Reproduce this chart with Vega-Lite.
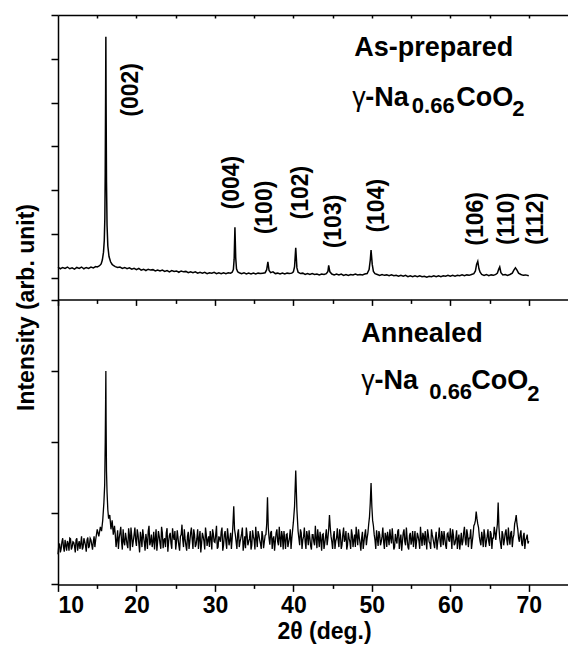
{
"$schema":"https://vega.github.io/schema/vega-lite/v6.json",
"background":"white",
"padding":{"left":15,"top":14,"right":0,"bottom":0},
"bounds":"flush",
"spacing":0,
"config":{"view":{"stroke":null},"font":"Liberation Sans",
"axis":{"domainColor":"black","tickColor":"black","domainWidth":1.5,"tickWidth":1.5,"grid":false,"labelFont":"Liberation Sans","labelFontWeight":"bold","labelFontSize":23,"labelColor":"black","titleFont":"Liberation Sans","titleFontWeight":"bold","titleFontSize":23,"titleColor":"black"}},
"datasets":{
"top":[{"x":10.0,"y":0.24},{"x":10.3,"y":0.2},{"x":10.6,"y":0.23},{"x":10.9,"y":0.21},{"x":11.2,"y":0.24},{"x":11.5,"y":0.2},{"x":11.8,"y":0.22},{"x":12.1,"y":0.19},{"x":12.4,"y":0.23},{"x":12.7,"y":0.21},{"x":13.0,"y":0.24},{"x":13.3,"y":0.2},{"x":13.6,"y":0.23},{"x":13.9,"y":0.21},{"x":14.2,"y":0.24},{"x":14.5,"y":0.22},{"x":14.8,"y":0.25},{"x":15.0,"y":0.24},{"x":15.2,"y":0.26},{"x":15.35,"y":0.28},{"x":15.5,"y":0.31},{"x":15.65,"y":0.4},{"x":15.8,"y":0.58},{"x":15.9,"y":0.85},{"x":15.97,"y":1.35},{"x":16.02,"y":2.4},{"x":16.07,"y":4.2},{"x":16.1,"y":5.5},{"x":16.13,"y":4.0},{"x":16.18,"y":2.2},{"x":16.25,"y":1.2},{"x":16.35,"y":0.72},{"x":16.5,"y":0.48},{"x":16.7,"y":0.36},{"x":16.9,"y":0.3},{"x":17.1,"y":0.27},{"x":17.3,"y":0.25},{"x":17.6,"y":0.23},{"x":17.9,"y":0.24},{"x":18.2,"y":0.21},{"x":18.5,"y":0.23},{"x":18.8,"y":0.2},{"x":19.1,"y":0.22},{"x":19.4,"y":0.19},{"x":19.7,"y":0.21},{"x":20.0,"y":0.18},{"x":20.3,"y":0.21},{"x":20.6,"y":0.17},{"x":20.9,"y":0.19},{"x":21.2,"y":0.16},{"x":21.5,"y":0.19},{"x":21.8,"y":0.17},{"x":22.1,"y":0.18},{"x":22.4,"y":0.15},{"x":22.7,"y":0.17},{"x":23.0,"y":0.15},{"x":23.3,"y":0.17},{"x":23.6,"y":0.14},{"x":23.9,"y":0.16},{"x":24.2,"y":0.13},{"x":24.5,"y":0.16},{"x":24.8,"y":0.14},{"x":25.1,"y":0.15},{"x":25.4,"y":0.12},{"x":25.7,"y":0.15},{"x":26.0,"y":0.13},{"x":26.3,"y":0.14},{"x":26.6,"y":0.11},{"x":26.9,"y":0.13},{"x":27.2,"y":0.11},{"x":27.5,"y":0.13},{"x":27.8,"y":0.1},{"x":28.1,"y":0.12},{"x":28.4,"y":0.1},{"x":28.7,"y":0.12},{"x":29.0,"y":0.09},{"x":29.3,"y":0.11},{"x":29.6,"y":0.1},{"x":29.9,"y":0.12},{"x":30.2,"y":0.09},{"x":30.5,"y":0.11},{"x":30.8,"y":0.09},{"x":31.1,"y":0.11},{"x":31.4,"y":0.09},{"x":31.7,"y":0.11},{"x":32.0,"y":0.1},{"x":32.2,"y":0.12},{"x":32.35,"y":0.18},{"x":32.45,"y":0.42},{"x":32.55,"y":1.15},{"x":32.65,"y":0.45},{"x":32.75,"y":0.2},{"x":32.9,"y":0.13},{"x":33.1,"y":0.11},{"x":33.4,"y":0.09},{"x":33.7,"y":0.11},{"x":34.0,"y":0.08},{"x":34.3,"y":0.1},{"x":34.6,"y":0.08},{"x":34.9,"y":0.1},{"x":35.2,"y":0.08},{"x":35.5,"y":0.1},{"x":35.8,"y":0.09},{"x":36.1,"y":0.1},{"x":36.4,"y":0.11},{"x":36.6,"y":0.18},{"x":36.75,"y":0.36},{"x":36.9,"y":0.16},{"x":37.1,"y":0.11},{"x":37.4,"y":0.13},{"x":37.7,"y":0.09},{"x":38.0,"y":0.1},{"x":38.3,"y":0.08},{"x":38.6,"y":0.1},{"x":38.9,"y":0.08},{"x":39.2,"y":0.1},{"x":39.5,"y":0.09},{"x":39.8,"y":0.1},{"x":40.0,"y":0.13},{"x":40.15,"y":0.25},{"x":40.3,"y":0.68},{"x":40.45,"y":0.22},{"x":40.6,"y":0.12},{"x":40.9,"y":0.09},{"x":41.2,"y":0.1},{"x":41.5,"y":0.07},{"x":41.8,"y":0.09},{"x":42.1,"y":0.07},{"x":42.4,"y":0.09},{"x":42.7,"y":0.07},{"x":43.0,"y":0.08},{"x":43.3,"y":0.06},{"x":43.6,"y":0.08},{"x":43.9,"y":0.07},{"x":44.2,"y":0.09},{"x":44.4,"y":0.14},{"x":44.5,"y":0.28},{"x":44.65,"y":0.13},{"x":44.9,"y":0.08},{"x":45.2,"y":0.06},{"x":45.5,"y":0.08},{"x":45.8,"y":0.06},{"x":46.1,"y":0.08},{"x":46.4,"y":0.05},{"x":46.7,"y":0.07},{"x":47.0,"y":0.05},{"x":47.3,"y":0.07},{"x":47.6,"y":0.06},{"x":47.9,"y":0.08},{"x":48.2,"y":0.06},{"x":48.5,"y":0.07},{"x":48.8,"y":0.06},{"x":49.1,"y":0.08},{"x":49.4,"y":0.09},{"x":49.65,"y":0.18},{"x":49.8,"y":0.4},{"x":49.9,"y":0.63},{"x":50.05,"y":0.3},{"x":50.2,"y":0.14},{"x":50.4,"y":0.09},{"x":50.7,"y":0.07},{"x":51.0,"y":0.05},{"x":51.3,"y":0.07},{"x":51.6,"y":0.05},{"x":51.9,"y":0.06},{"x":52.2,"y":0.04},{"x":52.5,"y":0.06},{"x":52.8,"y":0.04},{"x":53.1,"y":0.05},{"x":53.4,"y":0.03},{"x":53.7,"y":0.05},{"x":54.0,"y":0.03},{"x":54.3,"y":0.05},{"x":54.6,"y":0.02},{"x":54.9,"y":0.04},{"x":55.2,"y":0.02},{"x":55.5,"y":0.04},{"x":55.8,"y":0.02},{"x":56.1,"y":0.04},{"x":56.4,"y":0.02},{"x":56.7,"y":0.03},{"x":57.0,"y":0.01},{"x":57.3,"y":0.03},{"x":57.6,"y":0.02},{"x":57.9,"y":0.04},{"x":58.2,"y":0.02},{"x":58.5,"y":0.04},{"x":58.8,"y":0.02},{"x":59.1,"y":0.04},{"x":59.4,"y":0.03},{"x":59.7,"y":0.05},{"x":60.0,"y":0.03},{"x":60.3,"y":0.05},{"x":60.6,"y":0.03},{"x":60.9,"y":0.05},{"x":61.2,"y":0.04},{"x":61.5,"y":0.06},{"x":61.8,"y":0.04},{"x":62.1,"y":0.06},{"x":62.4,"y":0.05},{"x":62.7,"y":0.07},{"x":63.0,"y":0.09},{"x":63.2,"y":0.15},{"x":63.35,"y":0.3},{"x":63.5,"y":0.37},{"x":63.65,"y":0.2},{"x":63.8,"y":0.12},{"x":64.0,"y":0.07},{"x":64.3,"y":0.05},{"x":64.6,"y":0.07},{"x":64.9,"y":0.04},{"x":65.2,"y":0.06},{"x":65.5,"y":0.05},{"x":65.8,"y":0.07},{"x":66.0,"y":0.1},{"x":66.15,"y":0.18},{"x":66.3,"y":0.24},{"x":66.45,"y":0.11},{"x":66.7,"y":0.06},{"x":67.0,"y":0.07},{"x":67.3,"y":0.05},{"x":67.6,"y":0.07},{"x":67.9,"y":0.1},{"x":68.1,"y":0.17},{"x":68.3,"y":0.22},{"x":68.5,"y":0.17},{"x":68.7,"y":0.1},{"x":69.0,"y":0.07},{"x":69.3,"y":0.05},{"x":69.6,"y":0.06},{"x":70.0,"y":0.04}],
"bot":[{"x":10.0,"y":0.85},{"x":10.2,"y":1.15},{"x":10.4,"y":1.0},{"x":10.6,"y":1.3},{"x":10.8,"y":0.92},{"x":11.0,"y":1.1},{"x":11.2,"y":1.22},{"x":11.4,"y":0.95},{"x":11.6,"y":1.28},{"x":11.8,"y":1.05},{"x":12.0,"y":1.18},{"x":12.2,"y":0.9},{"x":12.4,"y":1.3},{"x":12.6,"y":1.12},{"x":12.8,"y":1.0},{"x":13.0,"y":1.35},{"x":13.2,"y":1.05},{"x":13.4,"y":1.2},{"x":13.6,"y":0.92},{"x":13.8,"y":1.32},{"x":14.0,"y":1.08},{"x":14.2,"y":1.25},{"x":14.4,"y":0.98},{"x":14.6,"y":1.35},{"x":14.8,"y":1.25},{"x":15.0,"y":1.55},{"x":15.2,"y":1.35},{"x":15.4,"y":1.62},{"x":15.55,"y":1.5},{"x":15.7,"y":1.8},{"x":15.85,"y":2.3},{"x":15.95,"y":2.8},{"x":16.02,"y":4.0},{"x":16.07,"y":5.2},{"x":16.1,"y":6.0},{"x":16.13,"y":4.6},{"x":16.18,"y":3.2},{"x":16.25,"y":2.6},{"x":16.35,"y":2.1},{"x":16.45,"y":1.85},{"x":16.6,"y":1.95},{"x":16.75,"y":1.55},{"x":16.9,"y":1.8},{"x":17.05,"y":1.4},{"x":17.2,"y":1.65},{"x":17.4,"y":1.05},{"x":17.6,"y":1.52},{"x":17.8,"y":1.3},{"x":18.0,"y":1.62},{"x":18.2,"y":0.98},{"x":18.4,"y":1.2},{"x":18.6,"y":1.45},{"x":18.8,"y":1.12},{"x":19.0,"y":1.58},{"x":19.2,"y":0.95},{"x":19.4,"y":1.35},{"x":19.6,"y":1.22},{"x":19.8,"y":1.6},{"x":20.0,"y":1.08},{"x":20.2,"y":1.4},{"x":20.4,"y":0.9},{"x":20.6,"y":1.3},{"x":20.8,"y":1.55},{"x":21.0,"y":1.18},{"x":21.2,"y":1.42},{"x":21.4,"y":1.0},{"x":21.6,"y":1.65},{"x":21.8,"y":1.2},{"x":22.0,"y":1.05},{"x":22.2,"y":1.48},{"x":22.4,"y":1.28},{"x":22.6,"y":0.95},{"x":22.8,"y":1.5},{"x":23.0,"y":1.15},{"x":23.2,"y":1.62},{"x":23.4,"y":1.02},{"x":23.6,"y":1.3},{"x":23.8,"y":1.45},{"x":24.0,"y":0.92},{"x":24.2,"y":1.38},{"x":24.4,"y":1.15},{"x":24.6,"y":1.58},{"x":24.8,"y":1.25},{"x":25.0,"y":0.98},{"x":25.2,"y":1.52},{"x":25.4,"y":1.1},{"x":25.6,"y":1.35},{"x":25.8,"y":1.68},{"x":26.0,"y":1.05},{"x":26.2,"y":1.28},{"x":26.4,"y":0.95},{"x":26.6,"y":1.48},{"x":26.8,"y":1.2},{"x":27.0,"y":1.6},{"x":27.2,"y":1.0},{"x":27.4,"y":1.4},{"x":27.6,"y":1.12},{"x":27.8,"y":1.55},{"x":28.0,"y":1.3},{"x":28.2,"y":0.9},{"x":28.4,"y":1.45},{"x":28.6,"y":1.22},{"x":28.8,"y":1.6},{"x":29.0,"y":1.08},{"x":29.2,"y":1.35},{"x":29.4,"y":1.5},{"x":29.6,"y":0.98},{"x":29.8,"y":1.42},{"x":30.0,"y":1.18},{"x":30.2,"y":1.65},{"x":30.4,"y":1.05},{"x":30.6,"y":1.3},{"x":30.8,"y":1.48},{"x":31.0,"y":0.95},{"x":31.2,"y":1.4},{"x":31.4,"y":1.2},{"x":31.6,"y":1.58},{"x":31.8,"y":1.1},{"x":32.0,"y":1.45},{"x":32.2,"y":1.3},{"x":32.4,"y":2.2},{"x":32.6,"y":1.4},{"x":32.8,"y":1.0},{"x":33.0,"y":1.55},{"x":33.2,"y":1.2},{"x":33.4,"y":1.42},{"x":33.6,"y":0.95},{"x":33.8,"y":1.35},{"x":34.0,"y":1.6},{"x":34.2,"y":1.1},{"x":34.4,"y":1.28},{"x":34.6,"y":0.98},{"x":34.8,"y":1.52},{"x":35.0,"y":1.25},{"x":35.2,"y":1.62},{"x":35.4,"y":1.05},{"x":35.6,"y":1.4},{"x":35.8,"y":1.15},{"x":36.0,"y":1.5},{"x":36.2,"y":1.02},{"x":36.4,"y":1.38},{"x":36.6,"y":1.7},{"x":36.7,"y":2.45},{"x":36.8,"y":1.6},{"x":37.0,"y":1.12},{"x":37.2,"y":1.5},{"x":37.4,"y":1.28},{"x":37.6,"y":0.95},{"x":37.8,"y":1.45},{"x":38.0,"y":1.2},{"x":38.2,"y":1.62},{"x":38.4,"y":1.05},{"x":38.6,"y":1.35},{"x":38.8,"y":1.5},{"x":39.0,"y":1.0},{"x":39.2,"y":1.42},{"x":39.4,"y":1.18},{"x":39.6,"y":1.55},{"x":39.8,"y":1.3},{"x":40.0,"y":1.75},{"x":40.15,"y":2.2},{"x":40.3,"y":3.2},{"x":40.45,"y":2.1},{"x":40.6,"y":1.5},{"x":40.8,"y":1.1},{"x":41.0,"y":1.45},{"x":41.2,"y":1.25},{"x":41.4,"y":1.6},{"x":41.6,"y":1.0},{"x":41.8,"y":1.35},{"x":42.0,"y":1.52},{"x":42.2,"y":1.08},{"x":42.4,"y":1.4},{"x":42.6,"y":1.2},{"x":42.8,"y":1.65},{"x":43.0,"y":1.02},{"x":43.2,"y":1.3},{"x":43.4,"y":1.48},{"x":43.6,"y":0.95},{"x":43.8,"y":1.42},{"x":44.0,"y":1.15},{"x":44.2,"y":1.55},{"x":44.4,"y":1.3},{"x":44.6,"y":1.95},{"x":44.8,"y":1.35},{"x":45.0,"y":1.0},{"x":45.2,"y":1.5},{"x":45.4,"y":1.22},{"x":45.6,"y":1.58},{"x":45.8,"y":1.05},{"x":46.0,"y":1.38},{"x":46.2,"y":1.12},{"x":46.4,"y":1.6},{"x":46.6,"y":1.28},{"x":46.8,"y":0.98},{"x":47.0,"y":1.45},{"x":47.2,"y":1.2},{"x":47.4,"y":1.55},{"x":47.6,"y":1.05},{"x":47.8,"y":1.4},{"x":48.0,"y":1.62},{"x":48.2,"y":1.1},{"x":48.4,"y":1.32},{"x":48.6,"y":0.95},{"x":48.8,"y":1.48},{"x":49.0,"y":1.2},{"x":49.2,"y":1.55},{"x":49.4,"y":1.3},{"x":49.6,"y":1.7},{"x":49.8,"y":2.3},{"x":49.9,"y":2.85},{"x":50.0,"y":2.2},{"x":50.2,"y":1.65},{"x":50.4,"y":1.25},{"x":50.6,"y":1.52},{"x":50.8,"y":1.08},{"x":51.0,"y":1.4},{"x":51.2,"y":1.2},{"x":51.4,"y":1.6},{"x":51.6,"y":1.0},{"x":51.8,"y":1.35},{"x":52.0,"y":1.48},{"x":52.2,"y":1.1},{"x":52.4,"y":1.3},{"x":52.6,"y":1.58},{"x":52.8,"y":0.98},{"x":53.0,"y":1.42},{"x":53.2,"y":1.15},{"x":53.4,"y":1.55},{"x":53.6,"y":1.25},{"x":53.8,"y":0.95},{"x":54.0,"y":1.45},{"x":54.2,"y":1.2},{"x":54.4,"y":1.6},{"x":54.6,"y":1.05},{"x":54.8,"y":1.38},{"x":55.0,"y":1.12},{"x":55.2,"y":1.5},{"x":55.4,"y":1.3},{"x":55.6,"y":1.0},{"x":55.8,"y":1.45},{"x":56.0,"y":1.22},{"x":56.2,"y":1.62},{"x":56.4,"y":1.08},{"x":56.6,"y":1.35},{"x":56.8,"y":1.5},{"x":57.0,"y":0.98},{"x":57.2,"y":1.4},{"x":57.4,"y":1.15},{"x":57.6,"y":1.55},{"x":57.8,"y":1.28},{"x":58.0,"y":1.02},{"x":58.2,"y":1.48},{"x":58.4,"y":1.2},{"x":58.6,"y":1.6},{"x":58.8,"y":1.05},{"x":59.0,"y":1.35},{"x":59.2,"y":1.5},{"x":59.4,"y":1.1},{"x":59.6,"y":1.42},{"x":59.8,"y":1.25},{"x":60.0,"y":1.58},{"x":60.2,"y":1.0},{"x":60.4,"y":1.38},{"x":60.6,"y":1.15},{"x":60.8,"y":1.52},{"x":61.0,"y":1.28},{"x":61.2,"y":0.98},{"x":61.4,"y":1.45},{"x":61.6,"y":1.2},{"x":61.8,"y":1.62},{"x":62.0,"y":1.1},{"x":62.2,"y":1.4},{"x":62.4,"y":1.3},{"x":62.6,"y":1.55},{"x":62.8,"y":1.2},{"x":63.0,"y":1.65},{"x":63.2,"y":1.8},{"x":63.3,"y":2.05},{"x":63.4,"y":1.85},{"x":63.6,"y":1.6},{"x":63.8,"y":1.2},{"x":64.0,"y":1.48},{"x":64.2,"y":1.05},{"x":64.4,"y":1.38},{"x":64.6,"y":1.2},{"x":64.8,"y":1.55},{"x":65.0,"y":1.08},{"x":65.2,"y":1.42},{"x":65.4,"y":1.3},{"x":65.6,"y":1.62},{"x":65.8,"y":1.25},{"x":66.0,"y":1.7},{"x":66.1,"y":2.3},{"x":66.2,"y":1.6},{"x":66.4,"y":1.15},{"x":66.6,"y":1.5},{"x":66.8,"y":1.1},{"x":67.0,"y":1.45},{"x":67.2,"y":1.25},{"x":67.4,"y":1.6},{"x":67.6,"y":1.12},{"x":67.8,"y":1.5},{"x":68.0,"y":1.3},{"x":68.2,"y":1.7},{"x":68.4,"y":1.95},{"x":68.6,"y":1.55},{"x":68.8,"y":1.2},{"x":69.0,"y":1.52},{"x":69.2,"y":1.08},{"x":69.4,"y":1.45},{"x":69.6,"y":1.25},{"x":69.8,"y":1.4},{"x":70.0,"y":1.22},
{"x":10.1,"y":1.1},{"x":10.3,"y":0.9},{"x":10.5,"y":1.2},{"x":10.7,"y":1.05},{"x":10.9,"y":1.25},{"x":11.1,"y":0.95},{"x":11.3,"y":1.15},{"x":11.5,"y":1.3},{"x":11.7,"y":0.98},{"x":11.9,"y":1.2},{"x":12.1,"y":1.08},{"x":12.3,"y":1.25},{"x":12.5,"y":0.95},{"x":12.7,"y":1.22},{"x":12.9,"y":1.15},{"x":13.1,"y":0.98},{"x":13.3,"y":1.3},{"x":13.5,"y":1.1},{"x":13.7,"y":1.25},{"x":13.9,"y":1.02},{"x":14.1,"y":1.3},{"x":14.3,"y":1.12},{"x":14.5,"y":1.2},{"x":14.7,"y":1.05},
{"x":17.3,"y":1.4},{"x":17.5,"y":1.25},{"x":17.7,"y":1.0},{"x":17.9,"y":1.45},{"x":18.1,"y":1.2},{"x":18.3,"y":1.55},{"x":18.5,"y":1.1},{"x":18.7,"y":1.3},{"x":18.9,"y":1.02},{"x":19.1,"y":1.38},{"x":19.3,"y":1.6},{"x":19.5,"y":1.05},{"x":19.7,"y":1.4},{"x":19.9,"y":1.22},{"x":20.1,"y":1.55},{"x":20.3,"y":1.15},{"x":20.5,"y":1.48},{"x":20.7,"y":1.05},{"x":20.9,"y":1.35},{"x":21.1,"y":0.95},{"x":21.3,"y":1.25},{"x":21.5,"y":1.5},{"x":21.7,"y":1.1},{"x":21.9,"y":1.4},{"x":22.1,"y":1.2},{"x":22.3,"y":0.98},{"x":22.5,"y":1.55},{"x":22.7,"y":1.2},{"x":22.9,"y":1.35},{"x":23.1,"y":1.0},{"x":23.3,"y":1.45},{"x":23.5,"y":1.25},{"x":23.7,"y":1.05},{"x":23.9,"y":1.58},{"x":24.1,"y":1.2},{"x":24.3,"y":1.45},{"x":24.5,"y":1.0},{"x":24.7,"y":1.35},{"x":24.9,"y":1.5},{"x":25.1,"y":1.18},{"x":25.3,"y":1.3},{"x":25.5,"y":0.95},{"x":25.7,"y":1.4},{"x":25.9,"y":1.25},{"x":26.1,"y":1.55},{"x":26.3,"y":1.1},{"x":26.5,"y":1.35},{"x":26.7,"y":1.0},{"x":26.9,"y":1.45},{"x":27.1,"y":1.28},{"x":27.3,"y":1.55},{"x":27.5,"y":1.05},{"x":27.7,"y":1.3},{"x":27.9,"y":1.0},{"x":28.1,"y":1.5},{"x":28.3,"y":1.15},{"x":28.5,"y":1.35},{"x":28.7,"y":0.98},{"x":28.9,"y":1.4},{"x":29.1,"y":1.25},{"x":29.3,"y":1.05},{"x":29.5,"y":1.3},{"x":29.7,"y":1.55},{"x":29.9,"y":1.2},{"x":30.1,"y":1.4},{"x":30.3,"y":1.0},{"x":30.5,"y":1.35},{"x":30.7,"y":1.2},{"x":30.9,"y":1.6},{"x":31.1,"y":1.1},{"x":31.3,"y":1.5},{"x":31.5,"y":1.0},{"x":31.7,"y":1.35},{"x":31.9,"y":1.25},{"x":32.1,"y":1.0},{"x":32.3,"y":1.7},{"x":32.5,"y":1.55},{"x":32.7,"y":1.2},{"x":32.9,"y":1.42},{"x":33.1,"y":1.05},{"x":33.3,"y":1.3},{"x":33.5,"y":1.6},{"x":33.7,"y":1.15},{"x":33.9,"y":1.02},{"x":34.1,"y":1.4},{"x":34.3,"y":1.2},{"x":34.5,"y":1.5},{"x":34.7,"y":1.1},{"x":34.9,"y":1.35},{"x":35.1,"y":0.98},{"x":35.3,"y":1.3},{"x":35.5,"y":1.5},{"x":35.7,"y":1.25},{"x":35.9,"y":1.0},{"x":36.1,"y":1.35},{"x":36.3,"y":1.2},{"x":36.5,"y":1.4},{"x":36.9,"y":1.3},{"x":37.1,"y":1.45},{"x":37.3,"y":1.0},{"x":37.5,"y":1.35},{"x":37.7,"y":1.2},{"x":37.9,"y":1.55},{"x":38.1,"y":1.1},{"x":38.3,"y":1.3},{"x":38.5,"y":1.5},{"x":38.7,"y":0.98},{"x":38.9,"y":1.25},{"x":39.1,"y":1.4},{"x":39.3,"y":1.05},{"x":39.5,"y":1.3},{"x":39.7,"y":1.0},{"x":40.7,"y":1.3},{"x":40.9,"y":1.55},{"x":41.1,"y":1.0},{"x":41.3,"y":1.35},{"x":41.5,"y":1.2},{"x":41.7,"y":1.5},{"x":41.9,"y":1.1},{"x":42.1,"y":1.3},{"x":42.3,"y":0.98},{"x":42.5,"y":1.4},{"x":42.7,"y":1.1},{"x":42.9,"y":1.3},{"x":43.1,"y":1.55},{"x":43.3,"y":1.05},{"x":43.5,"y":1.25},{"x":43.7,"y":1.4},{"x":43.9,"y":1.0},{"x":44.1,"y":1.35},{"x":44.3,"y":1.1},{"x":44.5,"y":1.55},{"x":44.7,"y":1.6},{"x":44.9,"y":1.2},{"x":45.1,"y":1.35},{"x":45.3,"y":1.0},{"x":45.5,"y":1.3},{"x":45.7,"y":1.25},{"x":45.9,"y":1.55},{"x":46.1,"y":1.0},{"x":46.3,"y":1.4},{"x":46.5,"y":1.2},{"x":46.7,"y":1.5},{"x":46.9,"y":1.1},{"x":47.1,"y":1.3},{"x":47.3,"y":1.0},{"x":47.5,"y":1.4},{"x":47.7,"y":1.25},{"x":47.9,"y":1.05},{"x":48.1,"y":1.35},{"x":48.3,"y":1.55},{"x":48.5,"y":1.15},{"x":48.7,"y":1.3},{"x":48.9,"y":1.0},{"x":49.1,"y":1.4},{"x":49.3,"y":1.1},{"x":49.5,"y":1.45},{"x":49.7,"y":1.9},{"x":50.1,"y":1.8},{"x":50.3,"y":1.4},{"x":50.5,"y":1.0},{"x":50.7,"y":1.3},{"x":50.9,"y":1.5},{"x":51.1,"y":1.1},{"x":51.3,"y":1.35},{"x":51.5,"y":1.2},{"x":51.7,"y":1.45},{"x":51.9,"y":1.05},{"x":52.1,"y":1.3},{"x":52.3,"y":1.55},{"x":52.5,"y":1.15},{"x":52.7,"y":1.3},{"x":52.9,"y":1.05},{"x":53.1,"y":1.25},{"x":53.3,"y":1.5},{"x":53.5,"y":1.0},{"x":53.7,"y":1.4},{"x":53.9,"y":1.2},{"x":54.1,"y":1.55},{"x":54.3,"y":1.1},{"x":54.5,"y":1.3},{"x":54.7,"y":0.98},{"x":54.9,"y":1.45},{"x":55.1,"y":1.25},{"x":55.3,"y":1.05},{"x":55.5,"y":1.5},{"x":55.7,"y":1.2},{"x":55.9,"y":1.35},{"x":56.1,"y":1.0},{"x":56.3,"y":1.3},{"x":56.5,"y":1.45},{"x":56.7,"y":1.1},{"x":56.9,"y":1.25},{"x":57.1,"y":1.55},{"x":57.3,"y":1.2},{"x":57.5,"y":1.0},{"x":57.7,"y":1.4},{"x":57.9,"y":1.15},{"x":58.1,"y":1.3},{"x":58.3,"y":0.98},{"x":58.5,"y":1.35},{"x":58.7,"y":1.2},{"x":58.9,"y":1.5},{"x":59.1,"y":1.1},{"x":59.3,"y":1.3},{"x":59.5,"y":1.0},{"x":59.7,"y":1.45},{"x":59.9,"y":1.2},{"x":60.1,"y":1.35},{"x":60.3,"y":1.55},{"x":60.5,"y":1.1},{"x":60.7,"y":1.3},{"x":60.9,"y":1.0},{"x":61.1,"y":1.4},{"x":61.3,"y":1.2},{"x":61.5,"y":1.1},{"x":61.7,"y":1.45},{"x":61.9,"y":1.25},{"x":62.1,"y":1.55},{"x":62.3,"y":1.05},{"x":62.5,"y":1.3},{"x":62.7,"y":1.0},{"x":62.9,"y":1.4},{"x":63.1,"y":1.7},{"x":63.5,"y":1.7},{"x":63.7,"y":1.35},{"x":63.9,"y":1.1},{"x":64.1,"y":1.3},{"x":64.3,"y":1.55},{"x":64.5,"y":1.05},{"x":64.7,"y":1.35},{"x":64.9,"y":1.2},{"x":65.1,"y":1.5},{"x":65.3,"y":1.0},{"x":65.5,"y":1.3},{"x":65.7,"y":1.45},{"x":65.9,"y":1.5},{"x":66.3,"y":1.3},{"x":66.5,"y":1.0},{"x":66.7,"y":1.4},{"x":66.9,"y":1.25},{"x":67.1,"y":1.55},{"x":67.3,"y":1.1},{"x":67.5,"y":1.3},{"x":67.7,"y":1.45},{"x":67.9,"y":1.05},{"x":68.1,"y":1.4},{"x":68.3,"y":1.8},{"x":68.5,"y":1.7},{"x":68.7,"y":1.3},{"x":68.9,"y":1.4},{"x":69.1,"y":1.15},{"x":69.3,"y":1.35},{"x":69.5,"y":1.0},{"x":69.7,"y":1.3},{"x":69.9,"y":1.15}],
"hkl":[{"hkl":"(002)","x":19.34,"y":4.29},{"hkl":"(004)","x":32.21,"y":2.17},{"hkl":"(100)","x":36.42,"y":1.6},{"hkl":"(102)","x":41.01,"y":1.94},{"hkl":"(103)","x":45.22,"y":1.28},{"hkl":"(104)","x":50.7,"y":1.64},{"hkl":"(106)","x":63.31,"y":1.34},{"hkl":"(110)","x":67.26,"y":1.34},{"hkl":"(112)","x":70.96,"y":1.34}],
"one":[{}]
},
"vconcat":[
{"width":510,"height":284.4,
"resolve":{"axis":{"x":"independent"}},
"layer":[
{"data":{"name":"top"},"mark":{"type":"line","color":"black","strokeWidth":1.5},
"encoding":{
"x":{"field":"x","type":"quantitative","scale":{"domain":[10,75],"nice":false,"zero":false},"axis":{"orient":"bottom","values":[10,15,20,25,30,35,40,45,50,55,60,65,70],"labels":false,"title":null,"tickSize":{"condition":{"test":"datum.value % 10 === 0","value":6},"value":4}}},
"y":{"field":"y","type":"quantitative","scale":{"domain":[-0.5,6],"nice":false,"zero":false},"axis":{"values":[0,0.5,1,1.5,2,2.5,3,3.5,4,4.5,5,5.5,6],"labels":false,"title":"Intensity (arb. unit)","titleAngle":270,"titleX":-25,"titleY":292,"titleAlign":"center","titleBaseline":"alphabetic","tickSize":{"condition":{"test":"datum.value % 1 === 0","value":7},"value":-3}}}}},
{"data":{"name":"hkl"},"mark":{"type":"text","angle":270,"align":"center","baseline":"middle","font":"Liberation Sans","fontWeight":"bold","fontSize":23,"color":"black"},
"encoding":{
"x":{"field":"x","type":"quantitative","axis":{"orient":"top","values":[15,20,25,30,35,40,45,50,55,60,65,70],"labels":false,"title":null,"tickSize":-3}},
"y":{"field":"y","type":"quantitative"},
"text":{"field":"hkl"}}},
{"data":{"name":"one"},"mark":{"type":"text","text":"As-prepared","align":"left","baseline":"alphabetic","font":"Liberation Sans","fontWeight":"bold","fontSize":27,"color":"black"},
"encoding":{"x":{"datum":47.76,"type":"quantitative","axis":null},"y":{"datum":5.07,"type":"quantitative"}}},
{"data":{"name":"one"},"mark":{"type":"text","text":"γ","align":"left","baseline":"alphabetic","font":"Liberation Sans","fontSize":27,"color":"black"},
"encoding":{"x":{"datum":47.51,"type":"quantitative","axis":null},"y":{"datum":3.93,"type":"quantitative"}}},
{"data":{"name":"one"},"mark":{"type":"text","text":"-Na","align":"left","baseline":"alphabetic","font":"Liberation Sans","fontWeight":"bold","fontSize":27,"color":"black"},
"encoding":{"x":{"datum":49.17,"type":"quantitative","axis":null},"y":{"datum":3.93,"type":"quantitative"}}},
{"data":{"name":"one"},"mark":{"type":"text","text":"0.66","align":"left","baseline":"alphabetic","font":"Liberation Sans","fontWeight":"bold","fontSize":22,"color":"black"},
"encoding":{"x":{"datum":55.1,"type":"quantitative","axis":null},"y":{"datum":3.75,"type":"quantitative"}}},
{"data":{"name":"one"},"mark":{"type":"text","text":"CoO","align":"left","baseline":"alphabetic","font":"Liberation Sans","fontWeight":"bold","fontSize":27,"color":"black"},
"encoding":{"x":{"datum":60.76,"type":"quantitative","axis":null},"y":{"datum":3.93,"type":"quantitative"}}},
{"data":{"name":"one"},"mark":{"type":"text","text":"2","align":"left","baseline":"alphabetic","font":"Liberation Sans","fontWeight":"bold","fontSize":22,"color":"black"},
"encoding":{"x":{"datum":67.9,"type":"quantitative","axis":null},"y":{"datum":3.7,"type":"quantitative"}}}
]},
{"width":510,"height":284.4,
"layer":[
{"data":{"name":"bot"},"mark":{"type":"line","color":"black","strokeWidth":1.3},
"encoding":{
"x":{"field":"x","type":"quantitative","scale":{"domain":[10,75],"nice":false,"zero":false},"axis":{"orient":"bottom","values":[10,15,20,25,30,35,40,45,50,55,60,65,70],"labelExpr":"datum.value % 10 === 0 ? datum.label : ''","labelPadding":3,"title":"2θ (deg.)","titleX":266,"titleAlign":"center","titlePadding":3,"tickSize":{"condition":{"test":"datum.value % 10 === 0","value":7},"value":4}}},
"y":{"field":"y","type":"quantitative","scale":{"domain":[0,8],"nice":false,"zero":false},"axis":{"values":[0,1,2,3,4,5,6,7,8],"labels":false,"title":null,"tickSize":7}}}},
{"data":{"name":"one"},"mark":{"type":"text","text":"Annealed","align":"left","baseline":"alphabetic","font":"Liberation Sans","fontWeight":"bold","fontSize":27,"color":"black"},
"encoding":{"x":{"datum":48.66,"type":"quantitative"},"y":{"datum":6.81,"type":"quantitative"}}},
{"data":{"name":"one"},"mark":{"type":"text","text":"γ","align":"left","baseline":"alphabetic","font":"Liberation Sans","fontSize":27,"color":"black"},
"encoding":{"x":{"datum":48.66,"type":"quantitative"},"y":{"datum":5.49,"type":"quantitative"}}},
{"data":{"name":"one"},"mark":{"type":"text","text":"-Na","align":"left","baseline":"alphabetic","font":"Liberation Sans","fontWeight":"bold","fontSize":27,"color":"black"},
"encoding":{"x":{"datum":50.34,"type":"quantitative"},"y":{"datum":5.49,"type":"quantitative"}}},
{"data":{"name":"one"},"mark":{"type":"text","text":"0.66","align":"left","baseline":"alphabetic","font":"Liberation Sans","fontWeight":"bold","fontSize":22,"color":"black"},
"encoding":{"x":{"datum":57.32,"type":"quantitative"},"y":{"datum":5.21,"type":"quantitative"}}},
{"data":{"name":"one"},"mark":{"type":"text","text":"CoO","align":"left","baseline":"alphabetic","font":"Liberation Sans","fontWeight":"bold","fontSize":27,"color":"black"},
"encoding":{"x":{"datum":62.68,"type":"quantitative"},"y":{"datum":5.49,"type":"quantitative"}}},
{"data":{"name":"one"},"mark":{"type":"text","text":"2","align":"left","baseline":"alphabetic","font":"Liberation Sans","fontWeight":"bold","fontSize":22,"color":"black"},
"encoding":{"x":{"datum":69.82,"type":"quantitative"},"y":{"datum":5.15,"type":"quantitative"}}}
]}
]
}
